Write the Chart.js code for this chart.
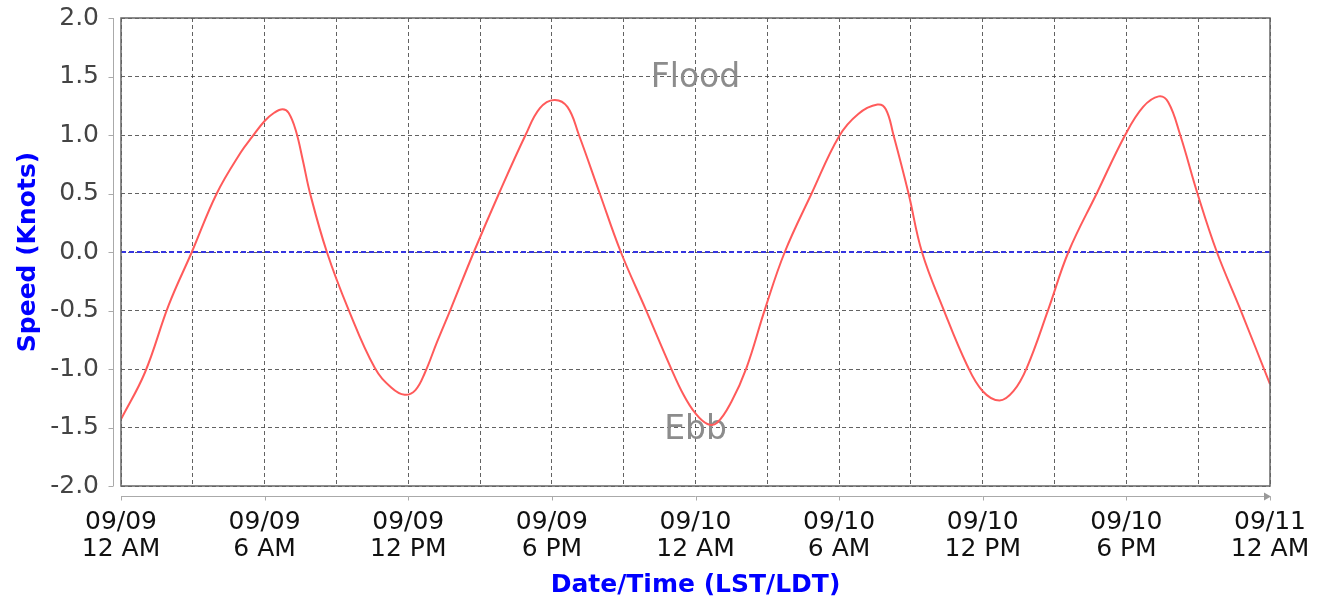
<!DOCTYPE html>
<html>
<head>
<meta charset="utf-8">
<title>Current speed</title>
<script src="https://cdn.jsdelivr.net/npm/chart.js@4/dist/chart.umd.min.js"></script>
<style>
  html, body { margin: 0; padding: 0; background: #fff; }
  canvas { display: block; }
</style>
</head>
<body>
<canvas id="chart" width="1340" height="600"></canvas>
<script>
// hours since 09/09 12 AM
const hours = [
  0.0, 1.0, 2.0, 2.96, 4.0, 5.0, 5.5, 6.0, 6.4, 6.75, 7.0, 7.3, 7.6, 7.9, 8.6,
  9.5, 10.6, 11.3, 11.85, 12.3, 12.7, 13.2, 13.77, 14.74, 15.79, 16.9,
  17.5, 18.1, 18.65, 19.13, 20.0, 20.88, 21.92, 22.97, 23.5, 24.0, 24.5,
  24.9, 25.5, 26.13, 26.9, 27.73, 28.85, 30.0, 30.8, 31.6, 31.95,
  32.27, 32.9, 33.46, 34.36, 35.35, 36.0, 36.7, 37.28, 37.84, 38.74,
  39.58, 40.76, 41.95, 42.7, 43.35, 43.75, 44.25, 44.97, 45.78, 46.76, 48.0
];
// speed in knots
const speed = [
  -1.43, -1.03, -0.45, 0.0, 0.5, 0.85, 0.99, 1.12, 1.19, 1.22, 1.19, 1.04, 0.78, 0.5, 0.0,
  -0.49, -0.99, -1.16, -1.22, -1.18, -1.03, -0.77, -0.49, 0.0, 0.5, 1.0,
  1.23, 1.3, 1.24, 1.0, 0.5, 0.0, -0.49, -0.99, -1.22, -1.38, -1.47,
  -1.46, -1.28, -0.99, -0.49, 0.0, 0.5, 0.99, 1.18, 1.26, 1.22,
  1.0, 0.5, 0.0, -0.49, -0.97, -1.19, -1.27, -1.19, -0.99, -0.49,
  0.0, 0.5, 1.0, 1.24, 1.33, 1.28, 1.0, 0.5, 0.0, -0.49, -1.13
];
const zeroHours = [0, 48];
const zeroSpeed = [0, 0];

const xTickDates = ['09/09', '09/09', '09/09', '09/09', '09/10', '09/10', '09/10', '09/10', '09/11'];
const xTickTimes = ['12 AM', '6 AM', '12 PM', '6 PM', '12 AM', '6 AM', '12 PM', '6 PM', '12 AM'];

const FONT = '"DejaVu Sans", sans-serif';

const extras = {
  id: 'extras',
  beforeDatasetsDraw(chart) {
    const { ctx, scales: { x, y } } = chart;
    ctx.save();
    ctx.font = '33px ' + FONT;
    ctx.fillStyle = '#8c8c8c';
    ctx.textAlign = 'center';
    ctx.textBaseline = 'alphabetic';
    ctx.fillText('Flood', x.getPixelForValue(24), y.getPixelForValue(1.41));
    ctx.fillText('Ebb', x.getPixelForValue(24), y.getPixelForValue(-1.6));
    ctx.restore();
  },
  afterDraw(chart) {
    const { ctx, chartArea: a, scales: { x, y } } = chart;
    ctx.save();
    // plot frame
    ctx.strokeStyle = '#666';
    ctx.lineWidth = 1.5;
    ctx.strokeRect(a.left, a.top, a.right - a.left, a.bottom - a.top);

    // detached value axis
    ctx.strokeStyle = '#aaa';
    ctx.lineWidth = 1;
    const ax = a.left - 7.5;
    ctx.beginPath();
    ctx.moveTo(ax, a.top);
    ctx.lineTo(ax, a.bottom);
    y.ticks.forEach(t => {
      const py = Math.round(y.getPixelForValue(t.value)) + 0.5;
      ctx.moveTo(ax - 5, py);
      ctx.lineTo(ax, py);
    });
    ctx.stroke();

    // detached time axis with arrow
    const ay = a.bottom + 10.5;
    ctx.beginPath();
    ctx.moveTo(a.left, ay);
    ctx.lineTo(a.right, ay);
    x.ticks.forEach(t => {
      if (t.value % 6 !== 0) return;
      const px = Math.round(x.getPixelForValue(t.value)) + 0.5;
      ctx.moveTo(px, ay);
      ctx.lineTo(px, ay + 4);
    });
    ctx.stroke();
    ctx.fillStyle = '#999';
    ctx.beginPath();
    ctx.moveTo(a.right + 1, ay);
    ctx.lineTo(a.right - 6, ay - 4);
    ctx.lineTo(a.right - 6, ay + 4);
    ctx.closePath();
    ctx.fill();
    ctx.restore();
  }
};

new Chart(document.getElementById('chart'), {
  type: 'line',
  data: {
    datasets: [{
      label: 'Speed',
      data: hours.map((h, i) => ({ x: h, y: speed[i] })),
      borderColor: '#ff5a5a',
      borderWidth: 2,
      pointRadius: 0,
      tension: 0.4,
      fill: false
    }, {
      label: 'Zero',
      data: zeroHours.map((h, i) => ({ x: h, y: zeroSpeed[i] })),
      borderColor: '#3535e0',
      borderWidth: 2,
      borderDash: [5, 3],
      pointRadius: 0,
      fill: false
    }]
  },
  options: {
    responsive: false,
    animation: false,
    devicePixelRatio: 1,
    layout: { padding: { top: 18, right: 70, left: 0, bottom: 0 } },
    plugins: { legend: { display: false }, tooltip: { enabled: false } },
    scales: {
      x: {
        type: 'linear',
        min: 0,
        max: 48,
        afterFit(scale) { scale.height = 114; },
        grid: { color: 'rgba(70,70,70,0.85)', lineWidth: 1, drawTicks: false },
        border: { display: false, dash: [4, 3] },
        ticks: {
          stepSize: 3,
          autoSkip: false,
          maxRotation: 0,
          padding: 23,
          color: '#111',
          font: { family: FONT, size: 25, lineHeight: 1.08 },
          callback: v => v % 6 === 0 ? [xTickDates[v / 6], xTickTimes[v / 6]] : ''
        },
        title: {
          display: true,
          text: 'Date/Time (LST/LDT)',
          color: '#0000ff',
          font: { family: FONT, size: 25, weight: 'bold', lineHeight: 1.2 },
          padding: { top: 0, bottom: 0 }
        }
      },
      y: {
        min: -2,
        max: 2,
        afterFit(scale) {
          scale.width = 121;
          scale.paddingTop = 0;
          scale.paddingBottom = 0;
        },
        grid: { color: 'rgba(70,70,70,0.85)', lineWidth: 1, drawTicks: false },
        border: { display: false, dash: [4, 3] },
        ticks: {
          stepSize: 0.5,
          padding: 22,
          color: '#444',
          font: { family: FONT, size: 25 },
          callback: v => v.toFixed(1)
        },
        title: {
          display: true,
          text: 'Speed (Knots)',
          color: '#0000ff',
          font: { family: FONT, size: 25, weight: 'bold', lineHeight: 1.2 },
          padding: { top: 13, bottom: 0 }
        }
      }
    }
  },
  plugins: [extras]
});
</script>
</body>
</html>
